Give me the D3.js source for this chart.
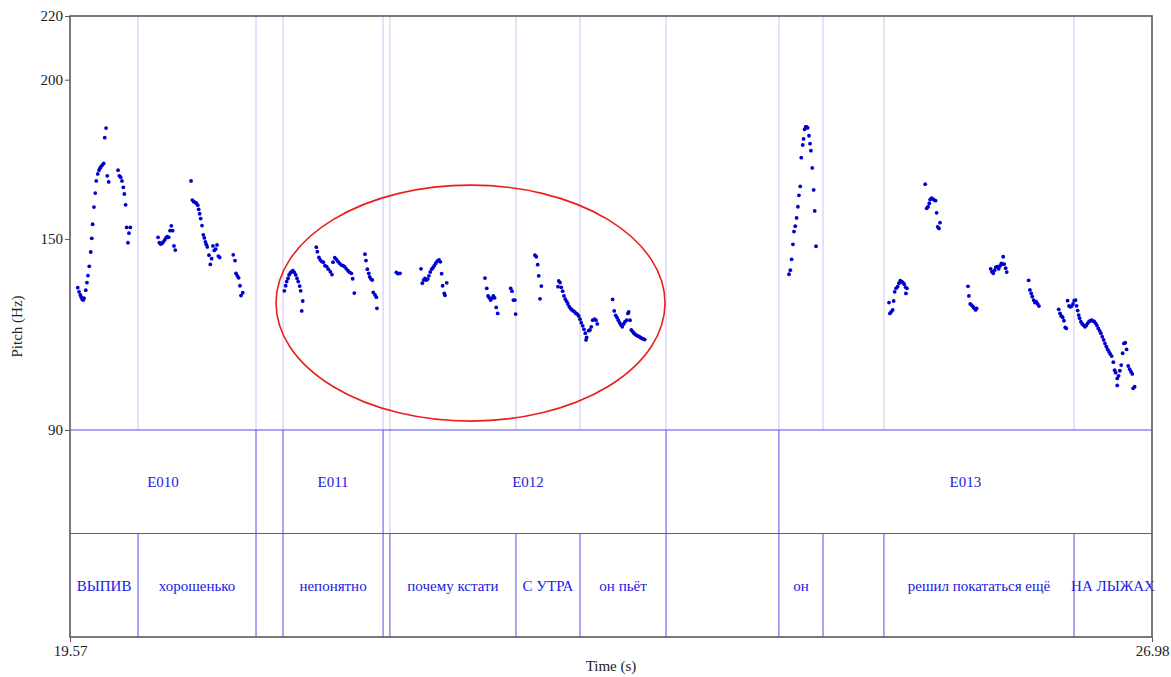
<!DOCTYPE html>
<html>
<head>
<meta charset="utf-8">
<script src="https://cdn.jsdelivr.net/npm/d3@7"></script>
<style>
  html, body { margin: 0; padding: 0; background: #fff; }
  svg text { font-family: 'Liberation Serif', 'Times New Roman', serif; }
  .tick-label { font-size: 15px; fill: #222; }
  .axis-title { font-size: 15px; fill: #222; }
  .tier-label { font-size: 15px; fill: #2020e0; }
</style>
</head>
<body>
<div id="chart"></div>
<script>
const timeRange = [19.57, 26.98];
const pitchRange = [90, 220];
const pitchTicks = [90, 150, 200, 220];

// tier 1: phrase intervals [start, end, label]
const phrases = [
  [19.57, 20.844, 'E010'],
  [21.029, 21.714, 'E011'],
  [21.761, 23.652, 'E012'],
  [24.425, 26.98, 'E013'],
];
const phraseBounds = [20.844, 21.029, 21.714, 23.652, 24.425];
const phraseLightBounds = [21.761];

// tier 2: word intervals
const words = [
  [19.57, 20.036, 'ВЫПИВ'],
  [20.036, 20.844, 'хорошенько'],
  [21.029, 21.714, 'непонятно'],
  [21.761, 22.624, 'почему кстати'],
  [22.624, 23.063, 'С УТРА'],
  [23.063, 23.652, 'он пьёт'],
  [24.425, 24.727, 'он'],
  [25.144, 26.446, 'решил покататься ещё'],
  [26.446, 26.98, 'НА ЛЫЖАХ'],
];
const wordBounds = [20.036, 20.844, 21.029, 21.714, 21.761, 22.624, 23.063, 23.652, 24.425, 24.727, 25.144, 26.446];

// highlighted region: [centre time, centre Hz, half width s, half height Hz]
const highlight = [22.313, 129.85, 1.332, 37.05];

// pitch track [time s, F0 Hz]
const pitchTrack = [
  [19.623, 134.7], [19.632, 133.4], [19.641, 132.4], [19.647, 131.7], [19.654, 131.0], [19.661, 130.8],
  [19.666, 131.4], [19.678, 133.9], [19.686, 136.3], [19.693, 138.5], [19.702, 141.4], [19.712, 145.9],
  [19.719, 150.2], [19.725, 154.6], [19.734, 160.0], [19.743, 164.4], [19.750, 168.2], [19.760, 170.4],
  [19.769, 171.6], [19.775, 172.2], [19.782, 172.7], [19.791, 173.2], [19.801, 173.7], [19.808, 181.8],
  [19.817, 184.8], [19.825, 169.8], [19.835, 167.9],
  [19.899, 171.6], [19.908, 169.8], [19.917, 169.4], [19.926, 168.2], [19.935, 166.2], [19.942, 164.1],
  [19.951, 160.7], [19.958, 153.6], [19.967, 148.8], [19.974, 151.8], [19.983, 153.6],
  [20.173, 150.5], [20.182, 148.8], [20.191, 148.4], [20.200, 148.6], [20.209, 149.1], [20.219, 149.7],
  [20.227, 150.3], [20.236, 150.7], [20.246, 150.5], [20.255, 152.6], [20.264, 154.1], [20.273, 152.6],
  [20.282, 147.8], [20.291, 146.5],
  [20.399, 168.2], [20.408, 162.2], [20.417, 161.7], [20.426, 161.5], [20.435, 161.2], [20.445, 160.6],
  [20.451, 159.3], [20.458, 157.9], [20.465, 156.4], [20.474, 154.2], [20.483, 151.3], [20.490, 150.3],
  [20.497, 149.1], [20.503, 148.3], [20.510, 147.5], [20.522, 144.9], [20.531, 142.0], [20.540, 143.8],
  [20.549, 147.8], [20.558, 146.4], [20.568, 146.8], [20.577, 148.1], [20.586, 144.6], [20.595, 144.2],
  [20.688, 145.0], [20.700, 143.2], [20.707, 139.2], [20.716, 138.4], [20.725, 137.8], [20.734, 135.3],
  [20.741, 132.2], [20.753, 133.1],
  [21.038, 133.7], [21.047, 135.3], [21.054, 136.6], [21.063, 137.6], [21.070, 138.7], [21.079, 139.3],
  [21.088, 139.7], [21.097, 140.0], [21.106, 139.5], [21.116, 138.7], [21.125, 137.6], [21.133, 136.6],
  [21.143, 135.2], [21.150, 133.7], [21.164, 130.5], [21.157, 127.4],
  [21.257, 147.4], [21.264, 146.0], [21.275, 144.2], [21.284, 143.4], [21.294, 142.9], [21.305, 142.7],
  [21.316, 141.6], [21.328, 141.3], [21.339, 140.5], [21.353, 139.7], [21.364, 138.8], [21.371, 142.7],
  [21.383, 144.1], [21.394, 143.6], [21.405, 142.9], [21.417, 142.3], [21.428, 141.8], [21.440, 141.6],
  [21.451, 141.3], [21.462, 140.6], [21.474, 140.0], [21.485, 139.5], [21.497, 139.2], [21.506, 137.5],
  [21.517, 133.0],
  [21.590, 145.2], [21.597, 143.2], [21.606, 140.5], [21.616, 139.2], [21.622, 138.1], [21.631, 137.4],
  [21.640, 137.1], [21.647, 133.2], [21.659, 132.4], [21.668, 131.7], [21.672, 128.2],
  [21.805, 139.5], [21.816, 139.1], [21.830, 139.2],
  [21.974, 140.6], [21.983, 136.1], [21.992, 137.1], [22.001, 137.6], [22.010, 137.1], [22.020, 137.4],
  [22.028, 138.4], [22.037, 139.6], [22.047, 140.5], [22.056, 141.0], [22.065, 141.6], [22.074, 142.3],
  [22.085, 143.0], [22.097, 143.4], [22.106, 142.8], [22.115, 139.1], [22.122, 135.3], [22.133, 132.9],
  [22.138, 132.3], [22.150, 136.2],
  [22.412, 137.7], [22.424, 134.5], [22.433, 132.1], [22.441, 131.5], [22.451, 130.8], [22.460, 131.4],
  [22.469, 132.1], [22.478, 131.5], [22.489, 128.5], [22.499, 126.6],
  [22.588, 134.5], [22.597, 133.6], [22.606, 130.8], [22.617, 130.8], [22.622, 126.4],
  [22.754, 144.9], [22.763, 144.4], [22.773, 141.9], [22.780, 138.4], [22.798, 135.2], [22.789, 131.2],
  [22.917, 136.8], [22.926, 136.3], [22.912, 135.0], [22.934, 134.8], [22.944, 133.6], [22.953, 132.1],
  [22.962, 131.1], [22.971, 130.4], [22.980, 129.6], [22.989, 128.7], [22.999, 128.1], [23.008, 127.7],
  [23.017, 127.4], [23.026, 127.1], [23.035, 126.6], [23.044, 126.4], [23.054, 125.8], [23.063, 124.8],
  [23.071, 123.7], [23.081, 122.7], [23.090, 121.6], [23.099, 120.4], [23.108, 119.1], [23.104, 118.3],
  [23.122, 121.2], [23.131, 121.4], [23.140, 122.4], [23.150, 124.5], [23.163, 124.8], [23.172, 124.5],
  [23.181, 123.3],
  [23.286, 131.0], [23.297, 127.4], [23.307, 126.0], [23.316, 125.3], [23.325, 124.5], [23.334, 123.7],
  [23.343, 123.0], [23.352, 122.4], [23.362, 123.3], [23.371, 124.0], [23.382, 124.5], [23.391, 126.6],
  [23.396, 127.1], [23.405, 124.5], [23.414, 121.4], [23.423, 120.9], [23.432, 120.4], [23.441, 120.0],
  [23.451, 119.7], [23.460, 119.5], [23.469, 119.3], [23.478, 119.0], [23.487, 118.8], [23.496, 118.6],
  [23.506, 118.4],
  [24.494, 138.9], [24.503, 140.2], [24.512, 143.6], [24.521, 148.3], [24.528, 152.3], [24.537, 154.0],
  [24.546, 156.6], [24.555, 160.1], [24.562, 163.7], [24.571, 166.5], [24.578, 175.5], [24.588, 179.5],
  [24.594, 181.4], [24.601, 184.4], [24.608, 185.2], [24.615, 185.2], [24.622, 184.9], [24.631, 182.4],
  [24.638, 179.9], [24.644, 177.7], [24.653, 172.3], [24.663, 165.4], [24.670, 158.8], [24.679, 147.7],
  [25.179, 130.0], [25.185, 126.6], [25.194, 127.1], [25.204, 127.7], [25.211, 130.5], [25.218, 133.4],
  [25.227, 134.5], [25.238, 135.0], [25.247, 136.1], [25.256, 136.9], [25.266, 136.6], [25.274, 136.3],
  [25.283, 135.8], [25.293, 134.8], [25.302, 134.5], [25.295, 132.9],
  [25.427, 167.2], [25.437, 159.6], [25.446, 160.1], [25.455, 161.2], [25.461, 162.4], [25.471, 162.8],
  [25.480, 162.5], [25.489, 162.2], [25.498, 162.0], [25.505, 158.2], [25.512, 153.8], [25.521, 153.3],
  [25.528, 155.1],
  [25.720, 135.1], [25.726, 132.1], [25.735, 129.6], [25.745, 129.2], [25.754, 128.7], [25.763, 128.2],
  [25.772, 127.7], [25.779, 128.2],
  [25.875, 140.6], [25.884, 139.7], [25.893, 139.2], [25.902, 140.2], [25.911, 141.1], [25.920, 141.3],
  [25.930, 140.6], [25.939, 141.5], [25.948, 142.3], [25.957, 142.1], [25.961, 144.4], [25.968, 142.1],
  [25.978, 140.8], [25.985, 139.6],
  [26.135, 137.0], [26.144, 134.0], [26.153, 132.9], [26.160, 131.9], [26.169, 130.8], [26.178, 130.0],
  [26.187, 130.3], [26.197, 129.6], [26.206, 128.9],
  [26.341, 127.9], [26.350, 126.6], [26.358, 125.8], [26.368, 125.4], [26.377, 124.3], [26.386, 122.2],
  [26.393, 121.9], [26.402, 130.6], [26.411, 129.0], [26.420, 128.7], [26.430, 128.9], [26.439, 129.6],
  [26.447, 130.6], [26.457, 130.8], [26.464, 129.0], [26.471, 127.5], [26.478, 126.1], [26.484, 125.1],
  [26.493, 124.0], [26.502, 123.3], [26.512, 122.9], [26.521, 122.4], [26.530, 122.8], [26.539, 123.5],
  [26.548, 124.0], [26.557, 124.3], [26.567, 124.5], [26.576, 124.2], [26.584, 124.1], [26.594, 123.5],
  [26.603, 122.8], [26.612, 121.9], [26.621, 121.2], [26.630, 120.4], [26.639, 119.3], [26.649, 118.3],
  [26.658, 117.2], [26.667, 116.2], [26.676, 115.3], [26.685, 114.6], [26.694, 113.9], [26.704, 113.2],
  [26.715, 111.3], [26.724, 108.8], [26.731, 108.0], [26.742, 106.2], [26.742, 104.0], [26.751, 107.0],
  [26.760, 108.6], [26.769, 110.4], [26.779, 114.1], [26.788, 117.2], [26.797, 117.4], [26.806, 115.3],
  [26.817, 110.1], [26.827, 109.1], [26.836, 108.3], [26.845, 107.6], [26.851, 103.1], [26.861, 103.6],
];

class PitchPlot {
  constructor(selector, width, height, box) {
    this.selector = selector;
    this.width = width;
    this.height = height;
    this.box = box;
  }

  init() {
    const { box } = this;
    this.svg = d3.select(this.selector)
      .append('svg')
      .attr('width', this.width)
      .attr('height', this.height);
    const g = this.svg.append('g');

    const tierH = (box.bottom - box.split) / 2;
    const tier1 = [box.split, box.split + tierH];
    const tier2 = [box.split + tierH, box.bottom];

    this.xScale = d3.scaleLinear()
      .domain(timeRange)
      .range([box.left, box.right]);
    this.yScale = d3.scaleLinear()
      .domain(pitchRange)
      .range([box.split, box.top]);
    const x = this.xScale;
    const y = this.yScale;

    // light boundary lines over the pitch area
    g.selectAll('line.light')
      .data(wordBounds)
      .enter()
      .append('line')
      .attr('class', 'light')
      .attr('x1', d => x(d))
      .attr('x2', d => x(d))
      .attr('y1', box.top)
      .attr('y2', box.split)
      .style('stroke', '#c6c6f6')
      .style('stroke-width', 1);

    g.selectAll('line.light1')
      .data(phraseLightBounds)
      .enter()
      .append('line')
      .attr('class', 'light1')
      .attr('x1', d => x(d))
      .attr('x2', d => x(d))
      .attr('y1', tier1[0])
      .attr('y2', tier1[1])
      .style('stroke', '#c6c6f6')
      .style('stroke-width', 1);

    // tier boundaries
    g.selectAll('line.pb')
      .data(phraseBounds)
      .enter()
      .append('line')
      .attr('class', 'pb')
      .attr('x1', d => x(d))
      .attr('x2', d => x(d))
      .attr('y1', tier1[0])
      .attr('y2', tier1[1])
      .style('stroke', '#5050e8')
      .style('stroke-width', 1);

    g.selectAll('line.wb')
      .data(wordBounds)
      .enter()
      .append('line')
      .attr('class', 'wb')
      .attr('x1', d => x(d))
      .attr('x2', d => x(d))
      .attr('y1', tier2[0])
      .attr('y2', tier2[1])
      .style('stroke', '#5050e8')
      .style('stroke-width', 1);

    g.selectAll('line.th')
      .data([tier1[0], tier2[0]])
      .enter()
      .append('line')
      .attr('class', 'th')
      .attr('x1', box.left)
      .attr('x2', box.right)
      .attr('y1', d => d)
      .attr('y2', d => d)
      .style('stroke', '#5050e8')
      .style('stroke-width', 1);

    g.selectAll('text.phrase')
      .data(phrases)
      .enter()
      .append('text')
      .attr('class', 'tier-label phrase')
      .attr('x', d => (x(d[0]) + x(d[1])) / 2)
      .attr('y', (tier1[0] + tier1[1]) / 2)
      .attr('dy', '0.35em')
      .style('text-anchor', 'middle')
      .text(d => d[2]);

    g.selectAll('text.word')
      .data(words)
      .enter()
      .append('text')
      .attr('class', 'tier-label word')
      .attr('x', d => (x(d[0]) + x(d[1])) / 2)
      .attr('y', (tier2[0] + tier2[1]) / 2)
      .attr('dy', '0.35em')
      .style('text-anchor', 'middle')
      .text(d => d[2]);

    // pitch points
    g.selectAll('circle')
      .data(pitchTrack)
      .enter()
      .append('circle')
      .attr('cx', d => x(d[0]))
      .attr('cy', d => y(d[1]))
      .attr('r', 1.9)
      .style('fill', '#0000cc');

    // red ellipse
    const [hx, hy, hrx, hry] = highlight;
    g.append('ellipse')
      .attr('cx', x(hx))
      .attr('cy', y(hy))
      .attr('rx', x(hx + hrx) - x(hx))
      .attr('ry', y(hy - hry) - y(hy))
      .style('fill', 'none')
      .style('stroke', '#ee1c1c')
      .style('stroke-width', 1.6);

    // frame
    g.append('rect')
      .attr('x', box.left)
      .attr('y', box.top)
      .attr('width', box.right - box.left)
      .attr('height', box.bottom - box.top)
      .style('fill', 'none')
      .style('stroke', '#5a5a5a')
      .style('stroke-width', 1.6);

    // y axis
    const yAxis = g.append('g')
      .attr('class', 'axis')
      .attr('transform', `translate(${box.left},0)`)
      .call(d3.axisLeft(y).tickValues(pitchTicks).tickSize(5).tickPadding(2).tickFormat(d3.format('d')));
    yAxis.select('.domain').remove();
    yAxis.selectAll('line').style('stroke', '#5a5a5a');
    yAxis.selectAll('text')
      .attr('class', 'tick-label')
      .style('font-size', '15px')
      .style('font-family', "'Liberation Serif', serif")
      .style('fill', '#222');

    // x axis end labels
    const xAxis = g.append('g')
      .attr('class', 'axis')
      .attr('transform', `translate(0,${box.bottom})`)
      .call(d3.axisBottom(x).tickValues(timeRange).tickSize(5).tickPadding(3).tickFormat(d3.format('.2f')));
    xAxis.select('.domain').remove();
    xAxis.selectAll('line').style('stroke', '#5a5a5a');
    xAxis.selectAll('text')
      .attr('class', 'tick-label')
      .style('font-size', '15px')
      .style('font-family', "'Liberation Serif', serif")
      .style('fill', '#222');

    g.append('text')
      .attr('class', 'axis-title')
      .attr('transform', `translate(${(box.left + box.right) / 2},${box.bottom + 34})`)
      .style('text-anchor', 'middle')
      .text('Time (s)');

    g.append('text')
      .attr('class', 'axis-title')
      .attr('transform', `translate(22,${(box.top + box.bottom) / 2}) rotate(-90)`)
      .style('text-anchor', 'middle')
      .text('Pitch (Hz)');
  }
}

const plot = new PitchPlot('#chart', 1171, 677, { left: 70, right: 1152, top: 16, split: 430, bottom: 637 });
plot.init();
</script>
</body>
</html>
